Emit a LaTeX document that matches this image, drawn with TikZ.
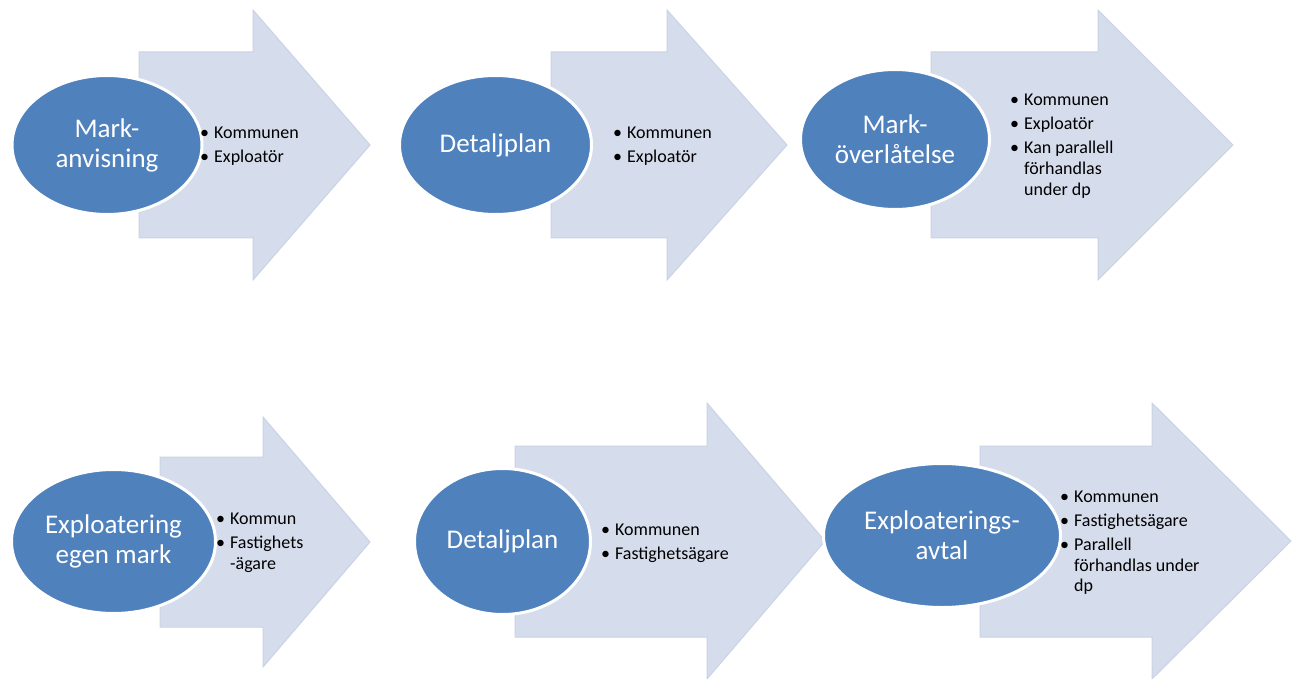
\documentclass[tikz,border=0pt]{standalone}
\usepackage{fontspec}
\setmainfont{Carlito}
\usetikzlibrary{shapes.geometric}
\definecolor{ellblue}{HTML}{4F81BD}
\definecolor{arrfill}{HTML}{D5DCEB}
\definecolor{arredge}{HTML}{CAD3E6}
\newcommand\bulmark{\llap{\textbullet\hspace{5pt}}}
\tikzset{
  arrowshape/.style={fill=arrfill, draw=arredge, line width=1pt, line join=miter},
  stage/.style={ellipse, fill=ellblue, draw=white, line width=3pt, inner sep=0pt,
    text=white, align=center, font=\fontsize{27}{30}\selectfont},
  bline/.style={anchor=base west, inner sep=0pt, text=black, font=\fontsize{18}{21}\selectfont}
}
\begin{document}
\begin{tikzpicture}[x=1pt,y=-1pt]
\useasboundingbox (0,0) rectangle (1293,679);
% arrows
\draw[arrowshape] (139,52) -- (253,52) -- (253,10) -- (370,145) -- (253,280) -- (253,238) -- (139,238) -- cycle;
\draw[arrowshape] (551,52) -- (667,52) -- (667,10) -- (787,145) -- (667,280) -- (667,238) -- (551,238) -- cycle;
\draw[arrowshape] (931,52) -- (1098,52) -- (1098,10) -- (1233,145) -- (1098,280) -- (1098,238) -- (931,238) -- cycle;
\draw[arrowshape] (160,457) -- (263,457) -- (263,417) -- (370,542) -- (263,667) -- (263,627) -- (160,627) -- cycle;
\draw[arrowshape] (515,446) -- (707,446) -- (707,403) -- (825,541) -- (707,679) -- (707,637) -- (515,637) -- cycle;
\draw[arrowshape] (980,446) -- (1152,446) -- (1152,403) -- (1291,541) -- (1152,679) -- (1152,637) -- (980,637) -- cycle;
% ellipses
\node[stage, minimum width=190, minimum height=139] (e1) at (107,145) {Mark-\\anvisning};
\node[stage, minimum width=192, minimum height=139] (e2) at (495.5,145) {Detaljplan};
\node[stage, minimum width=189, minimum height=140] (e3) at (895,139.5) {Mark-\\överlåtelse};
\node[stage, minimum width=204, minimum height=144] (e4) at (113.5,541.5) {Exploatering\\egen mark};
\node[stage, minimum width=176, minimum height=146] (e5) at (502.5,541.5) {Detaljplan};
\node[stage, minimum width=237, minimum height=144] (e6) at (942,535.5) {Exploaterings-\\avtal};
% bullet lists
\node[bline] (t1a) at (214,139) {\bulmark Kommunen};
\node[bline] (t1b) at (214,163) {\bulmark Exploatör};
\node[bline] (t2a) at (627,139) {\bulmark Kommunen};
\node[bline] (t2b) at (627,163) {\bulmark Exploatör};
\node[bline] (t3a) at (1024,106) {\bulmark Kommunen};
\node[bline] (t3b) at (1024,130) {\bulmark Exploatör};
\node[bline] (t3c) at (1024,154) {\bulmark Kan parallell};
\node[bline] (t3d) at (1024,175) {förhandlas};
\node[bline] (t3e) at (1024,196) {under dp};
\node[bline] (t4a) at (230,524) {\bulmark Kommun};
\node[bline] (t4b) at (230,548) {\bulmark Fastighets};
\node[bline] (t4c) at (230,569) {-ägare};
\node[bline] (t5a) at (615,535) {\bulmark Kommunen};
\node[bline] (t5b) at (615,559) {\bulmark Fastighetsägare};
\node[bline] (t6a) at (1074,502) {\bulmark Kommunen};
\node[bline] (t6b) at (1074,526) {\bulmark Fastighetsägare};
\node[bline] (t6c) at (1074,550) {\bulmark Parallell};
\node[bline] (t6d) at (1074,571) {förhandlas under};
\node[bline] (t6e) at (1074,591) {dp};
\end{tikzpicture}
\end{document}
